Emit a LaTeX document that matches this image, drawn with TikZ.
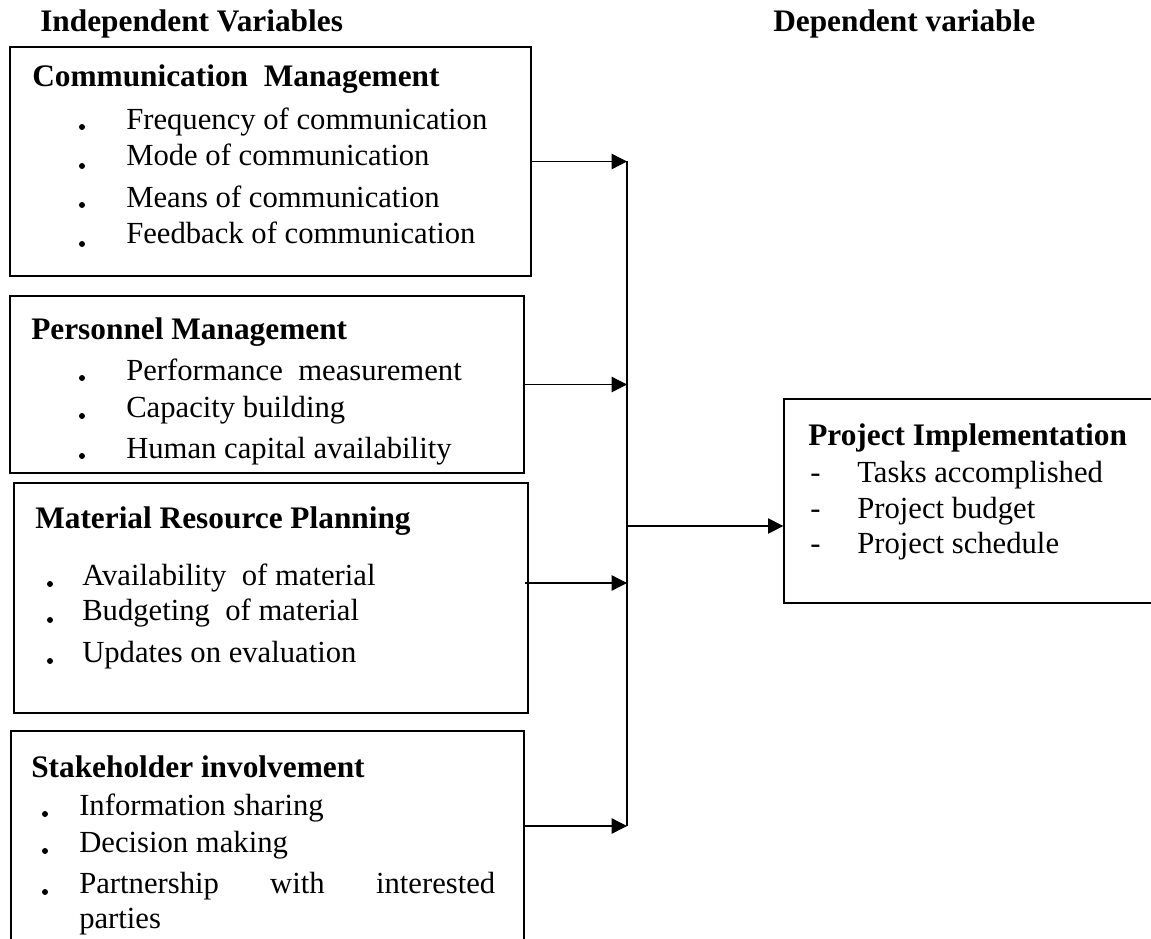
\documentclass[tikz,border=0pt]{standalone}
\usepackage{fontspec}
\setmainfont{Liberation Serif}
\usetikzlibrary{arrows.meta,fit}
\begin{document}
\begin{tikzpicture}[x=0.75pt,y=-0.75pt,
  box/.style={draw, line width=1pt, inner sep=0pt},
  txt/.style={anchor=base west, inner sep=0pt, font=\fontsize{23}{27}\selectfont},
  hd/.style={anchor=base west, inner sep=0pt, font=\fontsize{23.5}{27}\selectfont\bfseries},
  arr/.style={line width=1pt, -{Triangle[length=11.5pt,width=11.5pt]}},
  dotb/.style={fill, circle, inner sep=0pt, minimum size=4.5pt}
]
\useasboundingbox (0,0) rectangle (1151,938);
\clip (0,0) rectangle (1151,938);

% titles
\node[hd] (tind) at (40,32) {Independent Variables};
\node[hd] (tdep) at (773,32) {Dependent variable};

% box 1
\node[box, fit={(10,47)(531,276)}] (b1) {};
\node[hd] (h1) at (32,87) {Communication\ \ Management};
\node[dotb] (d11) at (82,127) {};
\node[dotb] (d12) at (82,166) {};
\node[dotb] (d13) at (82,205) {};
\node[dotb] (d14) at (82,244) {};
\node[txt] (t11) at (126,129) {Frequency of communication};
\node[txt] (t12) at (126,166) {Mode of communication};
\node[txt] (t13) at (126,207) {Means of communication};
\node[txt] (t14) at (126,243) {Feedback of communication};

% box 2
\node[box, fit={(10,296)(524,473)}] (b2) {};
\node[hd] (h2) at (31,339) {Personnel Management};
\node[dotb] (d21) at (82,378) {};
\node[dotb] (d22) at (82,416) {};
\node[dotb] (d23) at (82,456) {};
\node[txt] (t21) at (126,380) {Performance\ \ measurement};
\node[txt] (t22) at (126,417) {Capacity building};
\node[txt] (t23) at (126,458) {Human capital availability};

% box 3
\node[box, fit={(14,483)(528,713)}] (b3) {};
\node[hd] (h3) at (35,528) {Material Resource Planning};
\node[dotb] (d31) at (50,584) {};
\node[dotb] (d32) at (50,620) {};
\node[dotb] (d33) at (50,661) {};
\node[txt] (t31) at (82,585) {Availability\ \ of material};
\node[txt] (t32) at (82,620) {Budgeting\ \ of material};
\node[txt] (t33) at (82,662) {Updates on evaluation};

% box 4
\node[box, fit={(11,731)(524,960)}] (b4) {};
\node[hd] (h4) at (31,777) {Stakeholder involvement};
\node[dotb] (d41) at (45,814) {};
\node[dotb] (d42) at (45,851) {};
\node[dotb] (d43) at (45,892) {};
\node[txt] (t41) at (79,815) {Information sharing};
\node[txt] (t42) at (79,852) {Decision making};
\node[txt] (t43) at (79,893) {\makebox[312pt][s]{Partnership with interested}};
\node[txt] (t44) at (79,928) {parties};

% dependent box
\node[box, fit={(784,399)(1170,603)}] (pi) {};
\node[hd] (hp) at (808,445) {Project Implementation};
\node[txt] (m1) at (810,482) {-};
\node[txt] (m2) at (810,518) {-};
\node[txt] (m3) at (810,553) {-};
\node[txt] (p1) at (857,482) {Tasks accomplished};
\node[txt] (p2) at (857,518) {Project budget};
\node[txt] (p3) at (857,553) {Project schedule};

% connectors
\coordinate (bustop) at (627,161);
\coordinate (busbot) at (627,826);
\coordinate (a3) at (525,583);
\coordinate (a4) at (524,826);
\coordinate (a5) at (627,526);
\draw[line width=1pt] (bustop) -- (busbot);
\draw[arr] (b1.east) -- (b1.east -| bustop);
\draw[arr] (b2.east) -- (b2.east -| bustop);
\draw[arr] (a3) -- (a3 -| bustop);
\draw[arr] (a4) -- (busbot);
\draw[arr] (a5) -- (a5 -| pi.west);
\end{tikzpicture}
\end{document}
